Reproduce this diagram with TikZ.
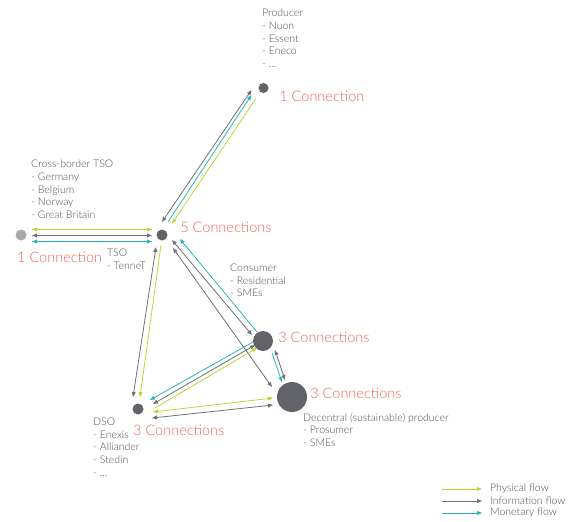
\documentclass[tikz,border=0pt]{standalone}
\usepackage{fontspec}
\setmainfont{Lato}
\newfontfamily\thinfont{Lato Light}
\usetikzlibrary{positioning, arrows.meta, calc}

\definecolor{physgreen}{RGB}{190,214,48}
\definecolor{infogray}{RGB}{112,113,117}
\definecolor{moncyan}{RGB}{38,184,188}
\definecolor{connred}{RGB}{240,98,90}
\definecolor{dotgray}{RGB}{98,99,104}
\definecolor{bordergray}{RGB}{168,169,173}
\definecolor{txtgray}{RGB}{78,78,80}

\begin{document}
\begin{tikzpicture}[x=1pt, y=-1pt,
    >={Triangle[length=5pt, width=3.8pt]},
    every node/.style={inner sep=0pt},
    actor/.style={circle, fill=dotgray, minimum size=11pt},
    lbl/.style={font=\thinfont\fontsize{10.5}{12.6}\selectfont, text=txtgray, align=left, anchor=north west},
    conn/.style={font=\thinfont\fontsize{14.5}{17}\selectfont, text=connred},
    phys/.style={draw=physgreen, line width=0.8pt},
    info/.style={draw=infogray, line width=0.8pt},
    mon/.style={draw=moncyan, line width=0.8pt}]

  \useasboundingbox (0,0) rectangle (573,522);

  \node[actor, minimum size=10pt] (prod) at (263.5,88) {};
  \node[actor] (tso) at (162,235) {};
  \node[actor, fill=bordergray] (xb) at (21,235) {};
  \node[actor, minimum size=20pt] (cons) at (263,341) {};
  \node[actor, minimum size=30pt] (dec) at (292,397) {};
  \node[actor] (dso) at (138,409) {};

  \node[lbl] (prodlbl) at (262,9) {Producer\\- Nuon\\- Essent\\- Eneco\\- ...};
  \node[lbl] (xblbl) at (31,160) {Cross-border TSO\\- Germany\\- Belgium\\- Norway\\- Great Britain};
  \node[lbl] (tsolbl) at (107,249) {TSO\\- TenneT};
  \node[lbl] (conslbl) at (230,264) {Consumer\\- Residential\\- SMEs};
  \node[lbl] (declbl) at (303,413) {Decentral (sustainable) producer\\- Prosumer\\- SMEs};
  \node[lbl] (dsolbl) at (93,418) {DSO\\- Enexis\\- Alliander\\- Stedin\\- ...};

  \node[conn, right=10.5pt of prod, yshift=-8pt] (prodconn) {1 Connection};
  \node[conn, right=12.5pt of tso, yshift=8pt] (tsoconn) {5 Connections};
  \node[conn, anchor=west] (xbconn) at (17,257) {1 Connection};
  \node[conn, right=5pt of cons, yshift=4pt] (consconn) {3 Connections};
  \node[conn, right=3pt of dec, yshift=4pt] (decconn) {3 Connections};
  \node[conn, anchor=west] (dsoconn) at (133,430) {3 Connections};

  \draw[info, <->] ($(tso)+(0,-13)$) -- ($(prod)+(-12,2)$);
  \draw[mon, ->] ($(tso)+(6,-13)$) -- ($(prod)+(-12,7)$);
  \draw[phys, ->] ($(prod)+(-7.5,10.5)$) -- ($(tso)+(10,-11.5)$);

  \draw[phys, <->] ($(xb)+(11,-5.5)$) -- ($(tso)+(-10,-5.5)$);
  \draw[info, <->] ($(xb)+(11,0.5)$) -- ($(tso)+(-10,0.5)$);
  \draw[mon, <->] ($(xb)+(11,6.5)$) -- ($(tso)+(-10,6.5)$);

  \draw[info, <->] ($(tso)+(-6,12)$) -- ($(dso)+(-5,-12)$);
  \draw[phys, ->] ($(tso)+(-1,10)$) -- ($(dso)+(2,-12)$);

  \draw[mon, ->] ($(cons)+(-6,-9)$) -- ($(tso)+(18,4)$);
  \draw[info, <->] ($(tso)+(10,5)$) -- ($(cons)+(-11,-6)$);
  \draw[info, <->] ($(tso)+(11,13)$) -- ($(dec)+(-20,-10)$);

  \draw[mon, ->] ($(cons)+(9,12)$) -- ($(dec)+(-10,-15)$);
  \draw[info, <->] ($(cons)+(12,9)$) -- ($(dec)+(-7,-17)$);

  \draw[mon, ->] ($(cons)+(-10,1)$) -- ($(dso)+(12,-9)$);
  \draw[info, <->] ($(dso)+(15,-5)$) -- ($(cons)+(-8,4)$);
  \draw[phys, ->] ($(dso)+(17,-1)$) -- ($(cons)+(-6,7)$);

  \draw[phys, <->] ($(dso)+(15,3)$) -- ($(dec)+(-19,1)$);
  \draw[info, <->] ($(dso)+(14,9)$) -- ($(dec)+(-19,8)$);

  \coordinate (lgphys) at (442,489);
  \coordinate (lginfo) at (442,501);
  \coordinate (lgmon) at (442,513);
  \node[lbl, anchor=west] (lgphystxt) at (490,489) {Physical flow};
  \node[lbl, anchor=west] (lginfotxt) at (490,501) {Information flow};
  \node[lbl, anchor=west] (lgmontxt) at (490,513) {Monetary flow};
  \draw[phys, ->, shorten >=8pt] (lgphys) -- (lgphystxt);
  \draw[info, ->, shorten >=8pt] (lginfo) -- (lginfotxt);
  \draw[mon, ->, shorten >=8pt] (lgmon) -- (lgmontxt);
\end{tikzpicture}
\end{document}
